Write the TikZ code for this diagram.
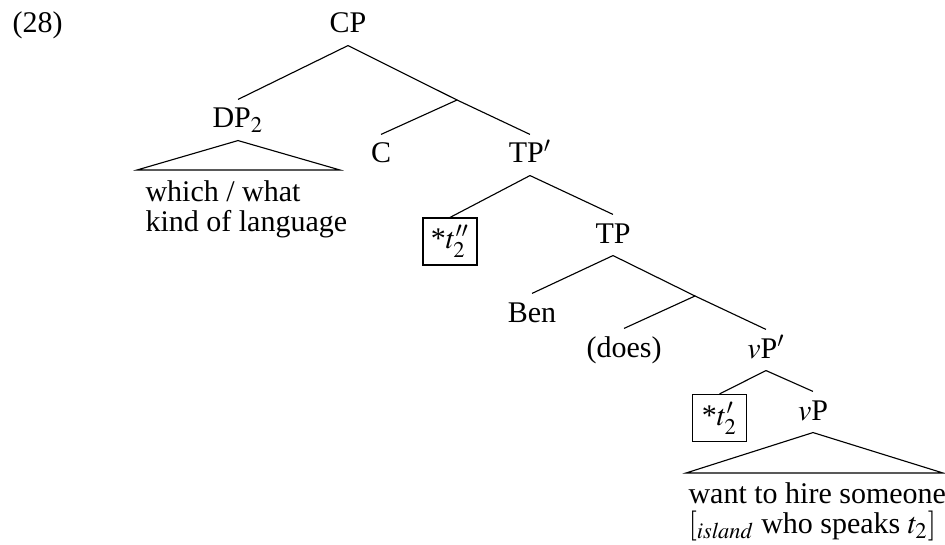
\documentclass[tikz,border=0pt]{standalone}
\usepackage{mathptmx}
\usepackage{fontspec}
\setmainfont{Liberation Serif}
\newcommand\trc[1]{*$t#1_2$}

\begin{document}
\begin{tikzpicture}[x=0.4pt, y=-0.4pt, line width=0.45pt,
  every node/.style={font=\fontsize{12}{12}\selectfont},
  cat/.style={anchor=base, inner sep=0pt, text height=11.2pt, text depth=4.8pt},
  trbox/.style={draw, inner sep=0pt, minimum width=21.6pt, minimum height=18.8pt},
  leaf/.style={anchor=north west, inner sep=0pt, align=left}]
\useasboundingbox (0,0) rectangle (945,545);
\node[anchor=base west, inner sep=0pt] (ex) at (12,33) {(28)};
\node[cat] (cp) at (348,33) {CP};
\node[cat] (dp) at (238,128) {DP$_2$};
\coordinate (b1) at (457,100);
\node[cat] (c) at (381,163) {C};
\node[cat] (tpbar) at (530,163) {TP$'$};
\node[trbox] (tr1) at (450,241.5) {\trc{''}};
\node[cat] (tp) at (613,243) {TP};
\node[cat] (ben) at (532,322) {Ben};
\coordinate (b2) at (695,296);
\node[cat] (does) at (624,357) {(does)};
\node[cat] (vpbar) at (766,358) {$v$P$'$};
\node[trbox] (tr2) at (719.5,418) {\trc{'}};
\node[cat] (vp) at (813,420) {$v$P};
\coordinate (dpl) at (137,170);
\coordinate (dpr) at (340,170);
\coordinate (vpl) at (686,473);
\coordinate (vpr) at (943,473);
\node[leaf] (dptext) at (145,180) {which / what\\kind of language};
\node[leaf] (vptext) at (688,482) {want to hire someone\\$[_{\mathit{island}}$ who speaks $t_2]$};
\draw (cp.south) -- (dp.north);
\draw (cp.south) -- (b1);
\draw (b1) -- (c.north);
\draw (b1) -- (tpbar.north);
\draw (dp.south) -- (dpl) -- (dpr) -- cycle;
\draw (tpbar.south) -- (tr1.north);
\draw (tpbar.south) -- (tp.north);
\draw (tp.south) -- (ben.north);
\draw (tp.south) -- (b2);
\draw (b2) -- (does.north);
\draw (b2) -- (vpbar.north);
\draw (vpbar.south) -- (tr2.north);
\draw (vpbar.south) -- (vp.north);
\draw (vp.south) -- (vpl) -- (vpr) -- cycle;
\end{tikzpicture}
\end{document}
